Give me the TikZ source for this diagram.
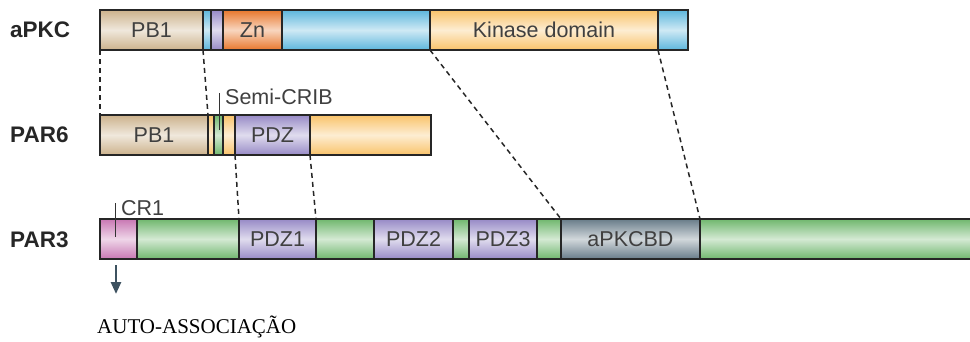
\documentclass[tikz,border=0pt]{standalone}
\usepackage{fontspec}
\setmainfont{Liberation Serif}
\newfontfamily\arialf{Liberation Sans}
\usetikzlibrary{arrows.meta}
\definecolor{tanc}{HTML}{CCB28C}
\definecolor{bluec}{HTML}{5DB6DC}
\definecolor{purc}{HTML}{978AC6}
\definecolor{zncol}{HTML}{E8772C}
\definecolor{kinc}{HTML}{F9C36A}
\definecolor{grnc}{HTML}{70B76E}
\definecolor{pinkc}{HTML}{C877B3}
\definecolor{slatec}{HTML}{687C89}
\definecolor{arrowc}{HTML}{3D5260}
\newcommand\domseg[6]{%
  \node[dom, shd=#5, minimum width={(#3-#2)*1pt}] (#1) at (#2,#4) {#6};}
\begin{document}
\begin{tikzpicture}[x=1pt,y=-1pt,
  dom/.style={draw=black!85, line width=1.1pt, anchor=north west, inner sep=0pt,
    outer sep=0pt, minimum height=40pt, font=\arialf\fontsize{21.5}{24}\selectfont, text=black!75},
  shd/.style={top color=#1, bottom color=#1, middle color=#1!30!white},
  conn/.style={draw=black!85, line width=1.5pt, dash pattern=on 5pt off 4pt},
  lbl/.style={font=\arialf\bfseries\fontsize{22.5}{24}\selectfont, text=black!85, anchor=west, inner sep=0pt},
  note/.style={font=\arialf\fontsize{21.5}{24}\selectfont, text=black!75, anchor=west, inner sep=0pt},
  tick/.style={draw=black!80, line width=1pt}]
\useasboundingbox (0,0) rectangle (970,341);
% labels
\node[lbl] (lapkc) at (10,30) {aPKC};
\node[lbl] (lpar6) at (10,135) {PAR6};
\node[lbl] (lpar3) at (10,240) {PAR3};
% aPKC
\domseg{a1}{100}{203}{10}{tanc}{PB1}
\domseg{a2}{203}{211}{10}{bluec}{}
\domseg{a3}{211}{223}{10}{purc}{}
\domseg{a4}{223}{282}{10}{zncol}{Zn}
\domseg{a5}{282}{430}{10}{bluec}{}
\domseg{a6}{430}{658}{10}{kinc}{Kinase domain}
\domseg{a7}{658}{688}{10}{bluec}{}
% PAR6
\domseg{b1}{100}{208}{115}{tanc}{PB1}
\domseg{b2}{208}{214}{115}{kinc}{}
\domseg{b3}{214}{223}{115}{grnc}{}
\domseg{b4}{223}{235}{115}{kinc}{}
\domseg{b5}{235}{310}{115}{purc}{PDZ}
\domseg{b6}{310}{431}{115}{kinc}{}
% PAR3
\domseg{c1}{100}{137}{219}{pinkc}{}
\domseg{c2}{137}{239}{219}{grnc}{}
\domseg{c3}{239}{316}{219}{purc}{PDZ1}
\domseg{c4}{316}{374}{219}{grnc}{}
\domseg{c5}{374}{453}{219}{purc}{PDZ2}
\domseg{c6}{453}{469}{219}{grnc}{}
\domseg{c7}{469}{537}{219}{purc}{PDZ3}
\domseg{c8}{537}{561}{219}{grnc}{}
\domseg{c9}{561}{700}{219}{slatec}{aPKCBD}
\domseg{c10}{700}{972}{219}{grnc}{}
% dashed connectors
\draw[conn] (a1.south west) -- (b1.north west);
\draw[conn] (a2.south west) -- (b2.north west);
\draw[conn] (a6.south west) -- (c9.north west);
\draw[conn] (a7.south west) -- (c10.north west);
\draw[conn] (b5.south west) -- (c3.north west);
\draw[conn] (b6.south west) -- (c4.north west);
% Semi-CRIB
\coordinate (cribtop) at (219,93);
\coordinate (cribbot) at (219,130);
\draw[tick] (cribtop) -- (cribbot);
\node[note] (crib) at (225,97) {Semi-CRIB};
% CR1
\coordinate (cr1top) at (115,203);
\coordinate (cr1bot) at (115,237);
\draw[tick] (cr1top) -- (cr1bot);
\node[note] (cr1) at (121,208) {CR1};
% arrow
\coordinate (arrs) at (116,265);
\coordinate (arre) at (116,294);
\draw[arrowc, line width=2.6pt, -{Triangle[width=10pt,length=12pt]}] (arrs) -- (arre);
\node[anchor=west, inner sep=0pt, font=\fontsize{21}{24}\selectfont] (auto) at (97,327) {AUTO-ASSOCIAÇÃO};
\end{tikzpicture}
\end{document}
